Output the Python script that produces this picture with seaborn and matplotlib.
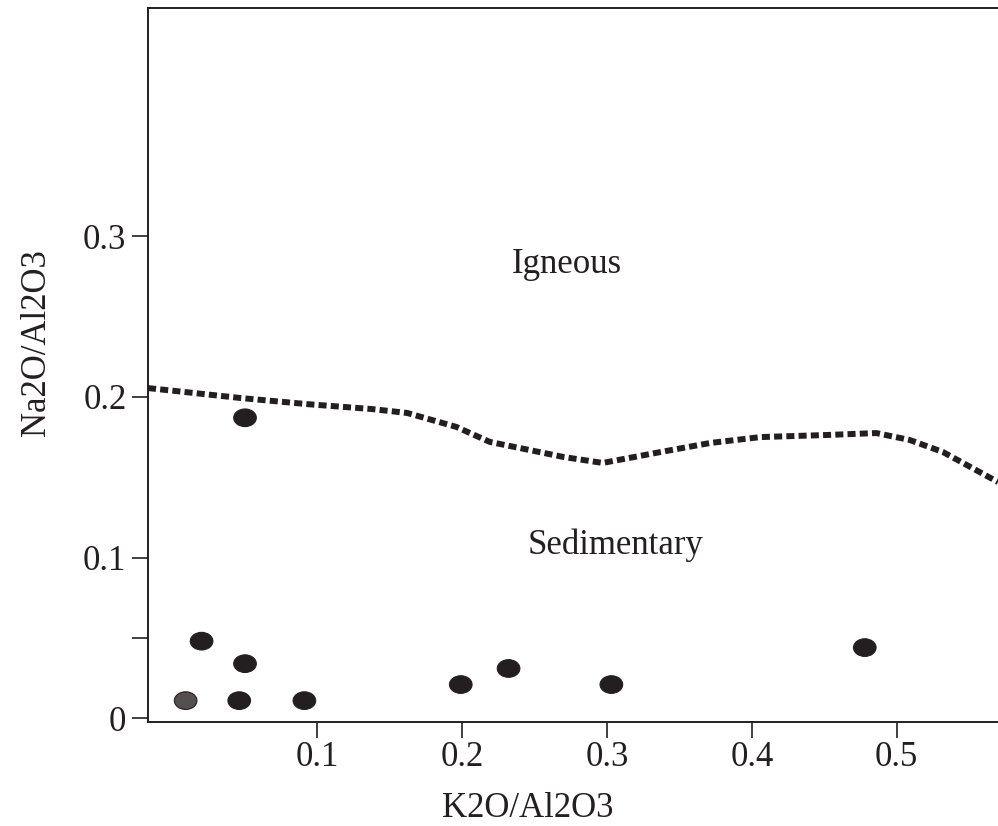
import numpy as np
import pandas as pd
import matplotlib
matplotlib.use("Agg")
import matplotlib.pyplot as plt
from matplotlib.path import Path
from matplotlib.transforms import Affine2D
import seaborn as sns

# Sample ratios
k2o_al2o3 = [0.009, 0.020, 0.050, 0.046, 0.091, 0.199, 0.232, 0.303, 0.478, 0.050]
na2o_al2o3 = [0.011, 0.048, 0.034, 0.011, 0.011, 0.021, 0.031, 0.021, 0.044, 0.187]
shade = ["grey", "black", "black", "black", "black", "black", "black", "black", "black", "black"]

# Igneous / sedimentary boundary
boundary_x = [-0.017, 0.047, 0.093, 0.138, 0.162, 0.196, 0.219, 0.270, 0.297,
              0.337, 0.371, 0.406, 0.452, 0.486, 0.509, 0.532, 0.570]
boundary_y = [0.2055, 0.1993, 0.1955, 0.1924, 0.1900, 0.1813, 0.1720, 0.1626, 0.1589,
              0.1657, 0.1713, 0.1750, 0.1763, 0.1775, 0.1732, 0.1657, 0.1470]

x_ticks = [0.1, 0.2, 0.3, 0.4, 0.5]
x_tick_labels = ["0.1", "0.2", "0.3", "0.4", "0.5"]
y_ticks = [0.0, 0.05, 0.1, 0.2, 0.3]
y_tick_labels = ["0", "", "0.1", "0.2", "0.3"]

INK = "#231f20"

sns.set_style("ticks")
plt.rcParams["font.family"] = ["Liberation Serif", "DejaVu Serif"]
plt.rcParams["text.color"] = INK
plt.rcParams["axes.labelcolor"] = INK
plt.rcParams["xtick.color"] = INK
plt.rcParams["ytick.color"] = INK

fig = plt.figure(figsize=(9.98, 8.26), dpi=100)
ax = fig.add_axes([148 / 998, 1 - 722 / 826, 850 / 998, 714 / 826])

samples = pd.DataFrame({"k2o": k2o_al2o3, "na2o": na2o_al2o3, "shade": shade})
boundary = pd.DataFrame({"x": boundary_x, "y": boundary_y})

sns.lineplot(data=boundary, x="x", y="y", sort=False, ax=ax, color=INK,
             linewidth=4.3, linestyle=(0, (1.35, 0.7)))

ellipse = Path.unit_circle().transformed(Affine2D().scale(1.0, 0.78))
sns.scatterplot(data=samples, x="k2o", y="na2o", hue="shade",
                palette={"grey": "#55504d", "black": INK}, marker=ellipse,
                s=265, edgecolor=INK, linewidth=0.8, legend=False, ax=ax, zorder=3)

ax.set_xlim(-0.017, 0.570)
ax.set_ylim(-0.0023, 0.442)

ax.set_xticks(x_ticks)
ax.set_xticklabels(x_tick_labels)
ax.set_yticks(y_ticks)
ax.set_yticklabels(y_tick_labels)
ax.tick_params(axis="both", labelsize=25, width=1.2, length=11.5, direction="out")
ax.tick_params(axis="x", pad=2)
ax.tick_params(axis="y", pad=4)

for side in ["left", "top", "bottom"]:
    ax.spines[side].set_linewidth(1.4)
    ax.spines[side].set_color(INK)
ax.spines["right"].set_visible(False)

ax.set_xlabel("K2O/Al2O3", fontsize=25)
ax.set_ylabel("Na2O/Al2O3", fontsize=25)
ax.xaxis.set_label_coords(0.447, -0.098)
ax.yaxis.set_label_coords(-0.112, 0.532)

ax.text(0.272, 0.277, "Igneous", fontsize=25, ha="center", va="baseline")
ax.text(0.306, 0.1022, "Sedimentary", fontsize=25, ha="center", va="baseline")

fig.savefig("out.png", dpi=100)
